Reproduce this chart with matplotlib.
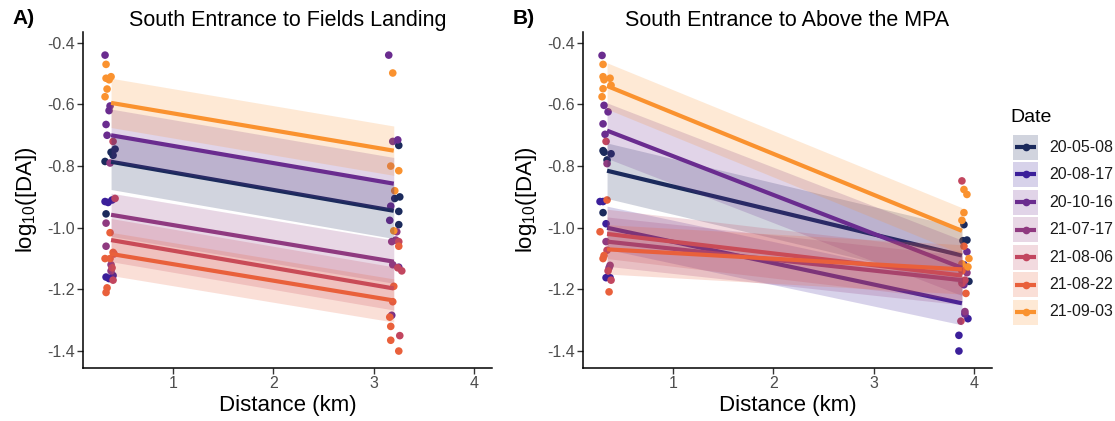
import matplotlib
matplotlib.use("Agg")
import matplotlib.pyplot as plt
from matplotlib.patches import Rectangle
from matplotlib.lines import Line2D

plt.rcParams['font.family'] = ['Liberation Sans', 'DejaVu Sans']
plt.rcParams['axes.unicode_minus'] = False
plt.rcParams['mathtext.fontset'] = 'custom'
plt.rcParams['mathtext.rm'] = 'Liberation Sans'
plt.rcParams['mathtext.it'] = 'Liberation Sans:italic'

# ---- sampling dates and their colours ----
dates = ['20-05-08', '20-08-17', '20-10-16', '21-07-17', '21-08-06', '21-08-22', '21-09-03']
colors = ['#1b2a5c', '#3b1f9a', '#6a2c8f', '#8f3a80', '#c2465f', '#e9603b', '#fa922f']

# ---- panel A: South Entrance -> Fields Landing ----
a_dist = [0.42, 0.38, 0.40, 0.32, 0.33,
          0.32, 0.35, 0.39, 0.33, 0.36, 0.40,
          0.32, 0.37, 0.36, 0.33, 0.34,
          0.37, 0.33, 0.33, 0.38, 0.38,
          0.40, 0.42, 0.41, 0.39, 0.40,
          0.37, 0.32, 0.37, 0.40, 0.34, 0.33,
          0.33, 0.33, 0.36, 0.38, 0.34, 0.32,
          3.25, 3.21, 3.26, 3.25, 3.25,
          3.15, 3.19, 3.24, 3.17, 3.16, 3.25, 3.18,
          3.23, 3.18, 3.22, 3.19,
          3.25, 3.24, 3.28, 3.26,
          3.25, 3.20, 3.19, 3.16, 3.17, 3.17, 3.25,
          3.19, 3.17, 3.25, 3.21, 3.20]
a_logda = [-0.745, -0.755, -0.765, -0.785, -0.955,
           -0.915, -0.918, -0.910, -1.160, -1.165, -1.155,
           -0.440, -0.605, -0.620, -0.665, -0.700,
           -0.790, -0.985, -1.060, -1.120, -1.140,
           -0.720, -0.905, -1.085, -1.130, -1.170,
           -1.016, -1.100, -1.100, -1.080, -1.195, -1.210,
           -0.470, -0.515, -0.520, -0.510, -0.550, -0.575,
           -0.733, -0.905, -0.900, -0.947, -0.990,
           -0.440, -0.720, -0.715, -0.930, -0.976, -1.128, -1.284,
           -1.013, -1.045, -1.040, -1.120,
           -1.045, -1.130, -1.140, -1.350,
           -1.060, -1.190, -1.240, -1.290, -1.320, -1.365, -1.400,
           -0.498, -0.800, -0.815, -0.880, -1.010]
a_date = [0] * 5 + [1] * 6 + [2] * 5 + [3] * 5 + [4] * 5 + [5] * 6 + [6] * 6 + \
         [0] * 5 + [2] * 7 + [3] * 4 + [4] * 4 + [5] * 7 + [6] * 5

# fitted lines (value at each end of the distance range) and CI half-width
a_fit_dist = [0.38, 3.2]
a_fit_start = [-0.786, None, -0.700, -0.958, -1.040, -1.085, -0.595]
a_fit_end = [-0.945, None, -0.857, -1.110, -1.197, -1.236, -0.750]
a_ci = [0.090, None, 0.085, 0.070, 0.070, 0.070, 0.080]

# ---- panel B: South Entrance -> Above the MPA ----
b_dist = [0.30, 0.31, 0.38, 0.34, 0.30,
          0.27, 0.30, 0.33, 0.33, 0.37,
          0.29, 0.31, 0.35, 0.30, 0.32,
          0.34, 0.33, 0.37, 0.36,
          0.33, 0.34, 0.38, 0.35,
          0.34, 0.27, 0.31, 0.30, 0.36,
          0.30, 0.30, 0.31, 0.37, 0.38, 0.30, 0.29,
          3.90, 3.89, 3.93, 3.95, 3.92,
          3.94, 3.85, 3.85, 3.90,
          3.93, 3.90, 3.91,
          3.93, 3.91, 3.89,
          3.88, 3.88, 3.91, 3.87,
          3.90, 3.89, 3.92, 3.88,
          3.90, 3.93, 3.90, 3.88, 3.88, 3.94, 3.95]
b_logda = [-0.750, -0.755, -0.760, -0.780, -0.951,
           -0.915, -0.915, -0.987, -1.162, -1.162,
           -0.441, -0.603, -0.624, -0.663, -0.697,
           -0.792, -1.045, -1.122, -1.130,
           -0.720, -1.073, -1.170, -1.140,
           -0.910, -1.013, -1.090, -1.100, -1.208,
           -0.470, -0.510, -0.520, -0.515, -0.538, -0.549, -0.575,
           -0.990, -1.042, -1.040, -1.174, -1.130,
           -1.295, -1.349, -1.400, -1.120,
           -1.078, -1.185, -1.280,
           -1.146, -1.272, -1.180,
           -0.848, -1.180, -1.170, -1.303,
           -1.060, -1.125, -1.213, -1.140,
           -0.876, -0.892, -0.951, -0.976, -1.117, -1.127, -1.100]
b_date = [0] * 5 + [1] * 5 + [2] * 5 + [3] * 4 + [4] * 4 + [5] * 5 + [6] * 7 + \
         [0] * 5 + [1] * 4 + [2] * 3 + [3] * 3 + [4] * 4 + [5] * 4 + [6] * 7

b_fit_dist = [0.34, 3.88]
b_fit_start = [-0.815, -1.000, -0.685, -1.045, -1.020, -1.070, -0.540]
b_fit_end = [-1.090, -1.245, -1.130, -1.170, -1.155, -1.135, -1.010]
b_ci = [0.090, 0.070, 0.090, 0.080, 0.080, 0.080, 0.075]

W, H = 1115, 421
fig = plt.figure(figsize=(W / 100, H / 100), dpi=100)


def fx(px):
    return px / W


def fy(py):
    return 1 - py / H


def draw_panel(ax, dist, logda, date, fit_dist, fit_start, fit_end, ci, title):
    for d in range(len(dates)):
        xs = [x for x, g in zip(dist, date) if g == d]
        ys = [y for y, g in zip(logda, date) if g == d]
        ax.scatter(xs, ys, s=30, color=colors[d], edgecolors='none', zorder=2)
    for d in range(len(dates)):
        if fit_start[d] is None:
            continue
        y0, y1 = fit_start[d], fit_end[d]
        ax.fill_between(fit_dist, [y0 - ci[d], y1 - ci[d]], [y0 + ci[d], y1 + ci[d]],
                        color=colors[d], alpha=0.2, linewidth=0, zorder=3)
        ax.plot(fit_dist, [y0, y1], color=colors[d], lw=3.0,
                solid_capstyle='butt', zorder=3)
    ax.set_xlim(0.1, 4.18)
    ax.set_ylim(-1.455, -0.365)
    ax.set_xticks([1, 2, 3, 4])
    ax.set_yticks([-0.4, -0.6, -0.8, -1.0, -1.2, -1.4])
    ax.set_yticklabels(['-0.4', '-0.6', '-0.8', '-1.0', '-1.2', '-1.4'])
    for s in ('top', 'right'):
        ax.spines[s].set_visible(False)
    for s in ('left', 'bottom'):
        ax.spines[s].set_linewidth(1.1)
        ax.spines[s].set_color('black')
    ax.tick_params(axis='both', length=4, width=1.0, color='#333333',
                   labelsize=11.5, labelcolor='#4d4d4d', pad=2)
    ax.set_xlabel('Distance (km)', fontsize=16, labelpad=3)
    ax.set_ylabel('log$_{10}$([DA])', fontsize=16, labelpad=6)
    ax.set_title(title, fontsize=15.5, pad=4)


axA = fig.add_axes([fx(83), fy(368), fx(409), (368 - 32) / H])
axB = fig.add_axes([fx(583), fy(368), fx(409), (368 - 32) / H])
draw_panel(axA, a_dist, a_logda, a_date, a_fit_dist, a_fit_start, a_fit_end, a_ci,
           'South Entrance to Fields Landing')
draw_panel(axB, b_dist, b_logda, b_date, b_fit_dist, b_fit_start, b_fit_end, b_ci,
           'South Entrance to Above the MPA')

fig.text(fx(12), fy(18), 'A)', fontsize=15, fontweight='bold', va='center', ha='left')
fig.text(fx(513), fy(18), 'B)', fontsize=15, fontweight='bold', va='center', ha='left')

# ---- legend ----
fig.text(fx(1010), fy(117), 'Date', fontsize=14, va='center', ha='left')
key_w, key_h, pitch = 25, 25, 27.5
for i, (lab, c) in enumerate(zip(dates, colors)):
    cy = 147 + i * pitch
    fig.add_artist(Rectangle((fx(1013), fy(cy + key_h / 2)), key_w / W, key_h / H,
                             transform=fig.transFigure, facecolor=c, alpha=0.2,
                             edgecolor='none'))
    fig.add_artist(Line2D([fx(1015), fx(1036)], [fy(cy), fy(cy)], transform=fig.transFigure,
                          color=c, lw=3.0, solid_capstyle='butt'))
    fig.add_artist(Line2D([fx(1025.5)], [fy(cy)], transform=fig.transFigure, color=c,
                          marker='o', markersize=5.5, markeredgewidth=0))
    fig.text(fx(1049), fy(cy), lab, fontsize=11.5, va='center', ha='left', color='#1a1a1a')

fig.savefig('out.png', dpi=100)
